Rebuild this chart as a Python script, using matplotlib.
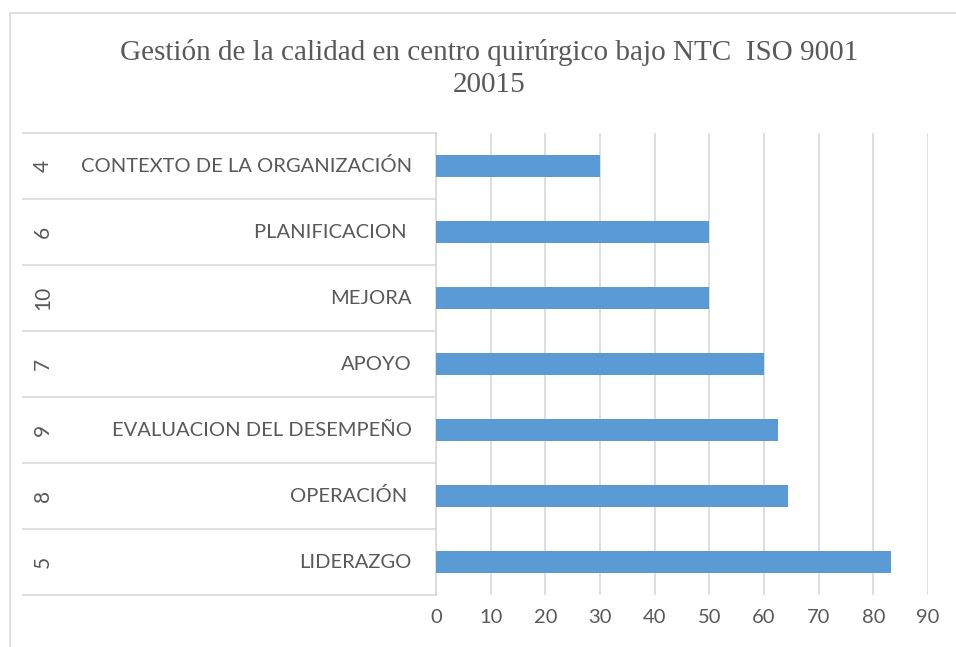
import matplotlib.pyplot as plt
from matplotlib.patches import Rectangle
import numpy as np

# datos
codes = ['4', '6', '10', '7', '9', '8', '5']
names = ['CONTEXTO DE LA ORGANIZACIÓN', 'PLANIFICACION ', 'MEJORA', 'APOYO',
         'EVALUACION DEL DESEMPEÑO', 'OPERACIÓN ', 'LIDERAZGO']
values = [30, 50, 50, 60, 62.5, 64.3, 83.3]
xticks = list(range(0, 100, 10))

title = 'Gestión de la calidad en centro quirúrgico bajo NTC  ISO 9001\n20015'

W, H = 956, 647
fig = plt.figure(figsize=(W / 100, H / 100), dpi=100)
ax = fig.add_axes([436 / W, 52 / H, 492 / W, 462 / H])

grid_c = '#D9D9D9'
text_c = '#595959'
lab_font = 'Lato'

y = np.arange(len(values))
ax.barh(y, values, height=0.34, color='#5B9BD5', zorder=3)
ax.set_ylim(len(values) - 0.5, -0.5)
ax.set_xlim(0, 90)
ax.set_xticks(xticks)
ax.xaxis.grid(True, color=grid_c, linewidth=1.2, zorder=0)
ax.tick_params(axis='x', length=0, pad=10, labelsize=14.5, labelcolor=text_c)
for t in ax.get_xticklabels():
    t.set_fontfamily(lab_font)
ax.set_yticks([])
for s in ['top', 'right', 'bottom']:
    ax.spines[s].set_visible(False)
ax.spines['left'].set_color(grid_c)
ax.spines['left'].set_linewidth(1.2)

# tabla de categorias
tr = ax.get_yaxis_transform()
x_left = (23 - 436) / 492
for b in np.arange(-0.5, len(values), 1.0):
    ax.plot([x_left, 0], [b, b], color=grid_c, lw=1.2, transform=tr, clip_on=False)
for i in range(len(values)):
    ax.text(-0.049, i, names[i], transform=tr, ha='right', va='center',
            fontsize=14.5, color=text_c, family=lab_font)
    ax.text((43 - 436) / 492, i, codes[i], transform=tr, ha='center', va='center',
            fontsize=15, color=text_c, family=lab_font, rotation=90)

fig.text(489 / W, 1 - 69 / H, title, ha='center', va='center', fontsize=21,
         color=text_c, family='Liberation Serif', linespacing=1.3)

fig.add_artist(Rectangle((10 / W, -0.1), 1.2, 0.1 + 1 - 13 / H, transform=fig.transFigure,
                         fill=False, edgecolor=grid_c, lw=1.2))

fig.savefig('out.png', dpi=100)
